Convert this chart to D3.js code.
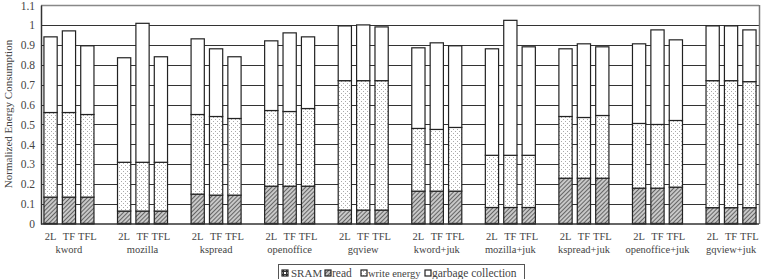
<!DOCTYPE html>
<html>
<head>
<meta charset="utf-8">
<script src="https://cdn.jsdelivr.net/npm/d3@7"></script>
<style>
  body { margin: 0; background: #fff; }
  svg { display: block; }
</style>
</head>
<body>
<svg id="chart" width="771" height="279"></svg>
<script>
const groups = ['kword', 'mozilla', 'kspread', 'openoffice', 'gqview',
  'kword+juk', 'mozilla+juk', 'kspread+juk', 'openoffice+juk', 'gqview+juk'];
const configs = ['2L', 'TF', 'TFL'];
const yTicks = [0, 0.1, 0.2, 0.3, 0.4, 0.5, 0.6, 0.7, 0.8, 0.9, 1, 1.1];

// one value per bar, groups in order, 2L / TF / TFL inside each group
const sram = [
  0.003, 0.003, 0.003, 0.003, 0.003, 0.003, 0.003, 0.003, 0.003, 0.003,
  0.003, 0.003, 0.003, 0.003, 0.003, 0.003, 0.003, 0.003, 0.003, 0.003,
  0.003, 0.003, 0.003, 0.003, 0.003, 0.003, 0.003, 0.003, 0.003, 0.003];
const read = [
  0.132, 0.132, 0.132,  0.062, 0.062, 0.062,  0.147, 0.142, 0.142,
  0.187, 0.187, 0.187,  0.067, 0.067, 0.067,  0.162, 0.162, 0.162,
  0.080, 0.080, 0.080,  0.227, 0.227, 0.227,  0.177, 0.177, 0.182,
  0.079, 0.079, 0.079];
const writeEnergy = [
  0.425, 0.425, 0.415,  0.245, 0.245, 0.245,  0.400, 0.395, 0.385,
  0.380, 0.375, 0.390,  0.650, 0.650, 0.650,  0.315, 0.310, 0.320,
  0.262, 0.262, 0.262,  0.310, 0.305, 0.315,  0.325, 0.320, 0.335,
  0.638, 0.638, 0.633];
const garbage = [
  0.380, 0.410, 0.345,  0.525, 0.698, 0.530,  0.380, 0.340, 0.310,
  0.350, 0.395, 0.360,  0.275, 0.280, 0.270,  0.405, 0.435, 0.410,
  0.535, 0.678, 0.545,  0.340, 0.370, 0.345,  0.400, 0.475, 0.405,
  0.275, 0.275, 0.260];

const seriesNames = ['SRAM', 'read', 'write energy', 'garbage collection'];
const seriesFill = ['url(#pSram)', 'url(#pRead)', 'url(#pWrite)', '#fff'];
const FONT = '"Liberation Serif", "Times New Roman", serif';

const rows = [];
groups.forEach((g, gi) => {
  configs.forEach((c, ci) => {
    const i = gi * 3 + ci;
    rows.push({ group: g, config: c, 'SRAM': sram[i], 'read': read[i],
      'write energy': writeEnergy[i], 'garbage collection': garbage[i] });
  });
});

const svg = d3.select('#chart');
const margin = { left: 41, right: 12 };
const W = 771;

// patterns
const defs = svg.append('defs');
const pr = defs.append('pattern').attr('id', 'pRead').attr('patternUnits', 'userSpaceOnUse')
  .attr('width', 3).attr('height', 3).attr('patternTransform', 'rotate(45)');
pr.append('rect').attr('width', 3).attr('height', 3).attr('fill', '#c8c8c8');
pr.append('line').attr('x1', 0).attr('y1', 0).attr('x2', 0).attr('y2', 3)
  .attr('stroke', '#3a3a3a').attr('stroke-width', 1.4);
const pw = defs.append('pattern').attr('id', 'pWrite').attr('patternUnits', 'userSpaceOnUse')
  .attr('width', 4).attr('height', 4);
pw.append('rect').attr('width', 4).attr('height', 4).attr('fill', '#fff');
pw.append('rect').attr('x', 1).attr('y', 1).attr('width', 1).attr('height', 1).attr('fill', '#aaa');
pw.append('rect').attr('x', 3).attr('y', 3).attr('width', 1).attr('height', 1).attr('fill', '#aaa');
const ps = defs.append('pattern').attr('id', 'pSram').attr('patternUnits', 'userSpaceOnUse')
  .attr('width', 3).attr('height', 3);
ps.append('rect').attr('width', 3).attr('height', 3).attr('fill', '#fff');
ps.append('path').attr('d', 'M0,1.5H3M1.5,0V3').attr('stroke', '#333').attr('stroke-width', 1);

const y = d3.scaleLinear().domain([0, 1.1]).range([224, 5]);
const x0 = d3.scaleBand().domain(groups).range([margin.left, W - margin.right])
  .paddingInner(0.32).paddingOuter(0.04);
const x1 = d3.scaleBand().domain(configs).range([0, x0.bandwidth()]).paddingInner(0.28);

// gridlines
svg.append('g').selectAll('line').data(yTicks.filter(d => d > 0)).join('line')
  .attr('x1', margin.left).attr('x2', W - margin.right)
  .attr('y1', d => Math.round(y(d)) + 0.5).attr('y2', d => Math.round(y(d)) + 0.5)
  .attr('stroke', d => d === 1.1 ? '#888' : '#333').attr('stroke-width', d => d === 1.1 ? 1.5 : 1);

// right border
svg.append('line').attr('x1', W - margin.right + 0.5).attr('x2', W - margin.right + 0.5)
  .attr('y1', y(1.1)).attr('y2', y(0)).attr('stroke', '#777').attr('stroke-width', 1.5);

// stacked bars
const stack = d3.stack().keys(seriesNames)(rows);
svg.append('g').selectAll('g').data(stack).join('g')
  .attr('fill', (d, i) => seriesFill[i])
  .selectAll('rect').data(d => d).join('rect')
  .attr('x', d => x0(d.data.group) + x1(d.data.config))
  .attr('width', x1.bandwidth())
  .attr('y', d => y(d[1]))
  .attr('height', d => y(d[0]) - y(d[1]))
  .attr('stroke', '#222').attr('stroke-width', 1.2);

// y axis
const yAxis = svg.append('g').attr('transform', `translate(${margin.left},0)`)
  .call(d3.axisLeft(y).tickValues(yTicks).tickSize(0).tickPadding(6)
    .tickFormat(d => d3.format('')(+d.toFixed(1))));
yAxis.select('.domain').attr('stroke', '#333').attr('stroke-width', 1.5);
yAxis.selectAll('text').attr('font-size', 11.5).attr('fill', '#444').style('font-family', FONT);
yAxis.selectAll('.tick').filter(d => d === 1.1).select('text').attr('dy', '0.4em');

// x axis line
svg.append('line').attr('x1', margin.left).attr('x2', W - margin.right)
  .attr('y1', y(0)).attr('y2', y(0)).attr('stroke', '#333').attr('stroke-width', 1.5);

// config labels
svg.append('g').selectAll('text').data(rows).join('text')
  .attr('x', d => x0(d.group) + x1(d.config) + x1.bandwidth() / 2)
  .attr('y', 240).attr('text-anchor', 'middle').attr('font-size', 10.5).attr('fill', '#444')
  .style('font-family', FONT)
  .text(d => d.config);

// group labels
svg.append('g').selectAll('text').data(groups).join('text')
  .attr('x', d => x0(d) + x0.bandwidth() / 2)
  .attr('y', 253).attr('text-anchor', 'middle').attr('font-size', 10.5).attr('fill', '#444')
  .style('font-family', FONT)
  .text(d => d);

// y label
svg.append('text').attr('transform', 'translate(12,114) rotate(-90)')
  .attr('text-anchor', 'middle').attr('font-size', 11).attr('fill', '#444')
  .style('font-family', FONT)
  .text('Normalized Energy Consumption');

// legend
const lg = svg.append('g');
lg.append('rect').attr('x', 278.5).attr('y', 264.5).attr('width', 246).attr('height', 20)
  .attr('fill', '#fff').attr('stroke', '#555');
const swatchX = [282, 325, 361, 425];
const labelX = [291, 332, 368, 432];
const labelSize = [11, 11.5, 10.5, 11.5];
seriesNames.forEach((s, i) => {
  lg.append('rect').attr('x', swatchX[i]).attr('y', 270).attr('width', 6).attr('height', 6)
    .attr('fill', seriesFill[i]).attr('stroke', '#222').attr('stroke-width', 1.2);
  lg.append('text').attr('x', labelX[i]).attr('y', 277)
    .attr('font-size', labelSize[i]).attr('fill', '#444')
    .style('font-family', FONT).text(s);
});
</script>
</body>
</html>
